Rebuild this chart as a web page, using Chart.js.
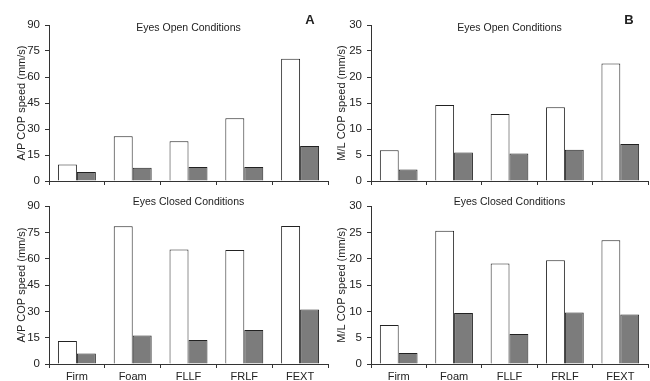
<!DOCTYPE html>
<html>
<head>
<meta charset="utf-8">
<script src="https://cdn.jsdelivr.net/npm/chart.js@4"></script>
<style>
    body { margin: 0; background: #fff; }
    #wrap { position: relative; width: 650px; height: 381px; }
    .panel { position: absolute; }
</style>
</head>
<body>
<div id="wrap">
    <div class="panel" style="left:0;top:0;width:330px;height:190px"><canvas id="apOpen"></canvas></div>
    <div class="panel" style="left:322px;top:0;width:328px;height:190px"><canvas id="mlOpen"></canvas></div>
    <div class="panel" style="left:0;top:190px;width:330px;height:191px"><canvas id="apClosed"></canvas></div>
    <div class="panel" style="left:322px;top:190px;width:328px;height:191px"><canvas id="mlClosed"></canvas></div>
</div>
<script>
// conditions
const conditions = ["Firm", "Foam", "FLLF", "FRLF", "FEXT"];

// A/P COP speed (mm/s)
const apOpenWhite = [9.5, 25.8, 23, 36.2, 70.5];
const apOpenGray = [5.2, 7.7, 8.1, 8.1, 20.2];
const apClosedWhite = [13.1, 78.5, 65.2, 65, 78.6];
const apClosedGray = [6, 16.3, 13.7, 19.4, 31];

// M/L COP speed (mm/s)
const mlOpenWhite = [5.9, 14.6, 12.9, 14.2, 22.6];
const mlOpenGray = [2.2, 5.5, 5.3, 6, 7.1];
const mlClosedWhite = [7.4, 25.3, 19.1, 19.7, 23.5];
const mlClosedGray = [2.1, 9.7, 5.7, 9.8, 9.4];

const FONT = "'Liberation Sans', Arial, sans-serif";
const AXIS = "#333";

// panel heading + letter drawn on the canvas
const panelText = {
    id: "panelText",
    afterDraw(chart, args, opts) {
        const ctx = chart.ctx;
        const area = chart.chartArea;
        ctx.save();
        ctx.fillStyle = "#222";
        ctx.textAlign = "center";
        ctx.textBaseline = "middle";
        ctx.font = "10.5px " + FONT;
        ctx.fillText(opts.text, (area.left + area.right) / 2, opts.titleY);
        if (opts.letter) {
            ctx.font = "bold 13px " + FONT;
            ctx.fillText(opts.letter, opts.letterX, opts.letterY);
        }
        ctx.restore();
    },
};

const createPanel = (id, cfg) => {
    const top = cfg.bottomRow ? 16 : 25;
    return new Chart(document.getElementById(id), {
        type: "bar",
        data: {
            labels: conditions,
            datasets: [
                {
                    data: cfg.white,
                    backgroundColor: "#ffffff",
                    borderColor: "#222",
                    borderWidth: 1,
                    categoryPercentage: 0.68,
                    barPercentage: 1.0,
                },
                {
                    data: cfg.gray,
                    backgroundColor: "#7c7c7c",
                    borderColor: "#222",
                    borderWidth: 1,
                    categoryPercentage: 0.68,
                    barPercentage: 1.0,
                },
            ],
        },
        options: {
            responsive: true,
            maintainAspectRatio: false,
            animation: false,
            layout: { padding: { top: top, right: 2, left: 0, bottom: 0 } },
            scales: {
                x: {
                    grid: {
                        offset: true,
                        drawOnChartArea: false,
                        drawTicks: true,
                        tickLength: 4,
                        color: AXIS,
                    },
                    border: { display: true, color: AXIS },
                    ticks: {
                        display: cfg.bottomRow,
                        color: "#222",
                        font: { family: FONT, size: 11 },
                        padding: 2,
                    },
                    afterFit(scale) {
                        scale.height = cfg.bottomRow ? 17 : 9;
                    },
                },
                y: {
                    min: 0,
                    max: cfg.max,
                    ticks: {
                        stepSize: cfg.step,
                        color: "#222",
                        font: { family: FONT, size: 11.5 },
                        padding: 5,
                    },
                    grid: {
                        drawOnChartArea: false,
                        drawTicks: true,
                        tickLength: 4,
                        color: AXIS,
                    },
                    border: { display: true, color: AXIS },
                    title: {
                        display: true,
                        text: cfg.yTitle,
                        color: "#222",
                        font: { family: FONT, size: 11 },
                        padding: { top: cfg.titlePad, bottom: 0 },
                    },
                    afterFit(scale) {
                        scale.width = 49;
                        scale.paddingTop = 0;
                        scale.paddingBottom = 0;
                    },
                },
            },
            plugins: {
                legend: { display: false },
                tooltip: { enabled: false },
                panelText: {
                    text: cfg.title,
                    titleY: cfg.bottomRow ? 12 : 28,
                    letter: cfg.letter,
                    letterX: cfg.letterX,
                    letterY: 20,
                },
            },
        },
        plugins: [panelText],
    });
};

createPanel("apOpen", {
    white: apOpenWhite, gray: apOpenGray, max: 90, step: 15,
    yTitle: "A/P COP speed (mm/s)", title: "Eyes Open Conditions",
    letter: "A", letterX: 310, bottomRow: false, titlePad: 15,
});
createPanel("mlOpen", {
    white: mlOpenWhite, gray: mlOpenGray, max: 30, step: 5,
    yTitle: "M/L COP speed (mm/s)", title: "Eyes Open Conditions",
    letter: "B", letterX: 307, bottomRow: false, titlePad: 13,
});
createPanel("apClosed", {
    white: apClosedWhite, gray: apClosedGray, max: 90, step: 15,
    yTitle: "A/P COP speed (mm/s)", title: "Eyes Closed Conditions",
    letter: "", bottomRow: true, titlePad: 15,
});
createPanel("mlClosed", {
    white: mlClosedWhite, gray: mlClosedGray, max: 30, step: 5,
    yTitle: "M/L COP speed (mm/s)", title: "Eyes Closed Conditions",
    letter: "", bottomRow: true, titlePad: 13,
});
</script>
</body>
</html>
